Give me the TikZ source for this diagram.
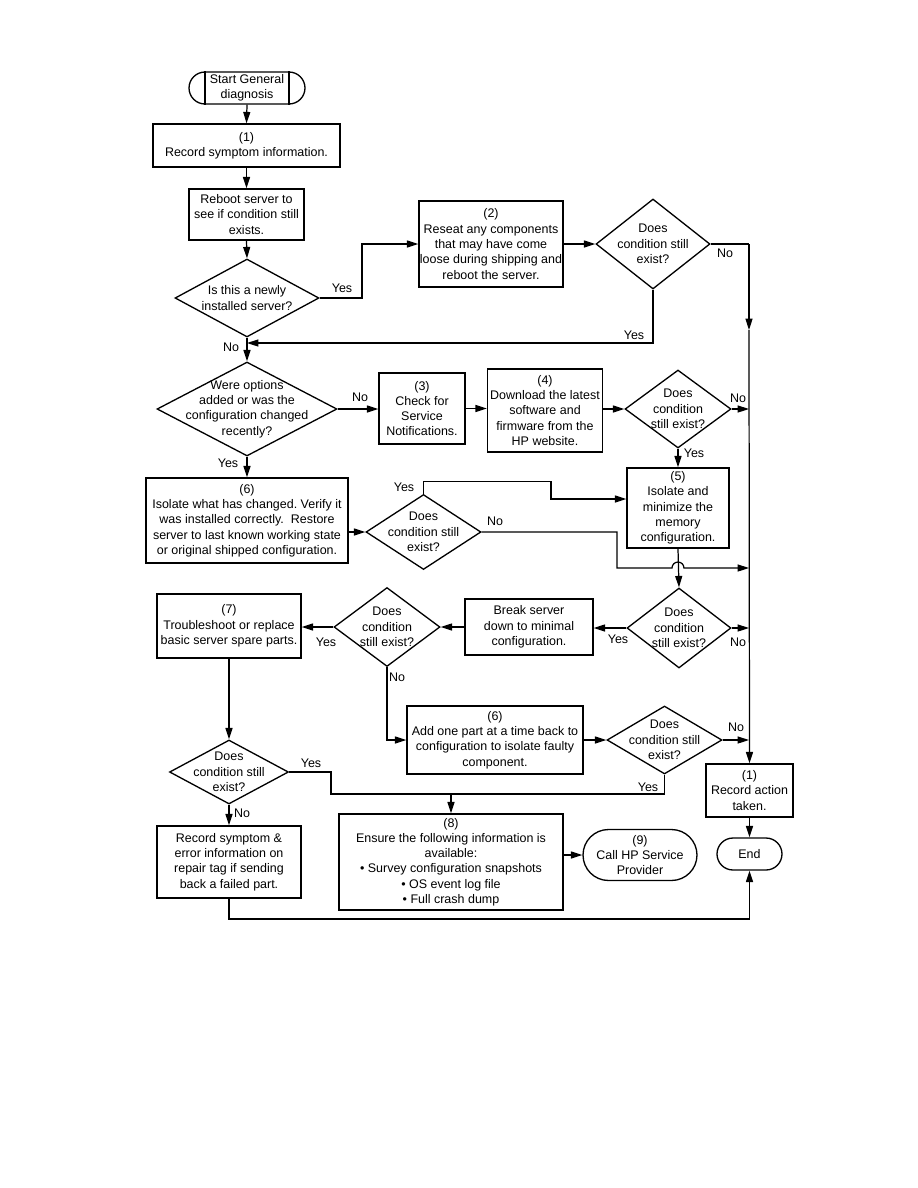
\documentclass[tikz,border=0pt]{standalone}
\usepackage{fontspec}
\setmainfont{Liberation Sans}
\usetikzlibrary{shapes.geometric,shapes.misc,arrows.meta}
\frenchspacing

\tikzset{
    box/.style={draw, line width=0.75pt, align=center, inner sep=0pt},
    ask/.style={draw, diamond, line width=0.75pt, align=center, inner sep=-2cm},
    term/.style={draw, rounded rectangle, line width=0.75pt, align=center, inner sep=0pt},
    line/.style={line width=0.7pt},
    arr/.style={line width=0.7pt, -{Triangle[length=6.5pt,width=4pt]}}
}

\begin{document}
\begin{tikzpicture}[x=0.02cm, y=-0.02cm]
    \tikzstyle{every node}=[font=\fontsize{7.1pt}{8.7pt}\selectfont]
    \path[fill=white] (0,0) rectangle (918,1188);

    % left column, top
    \node[term, minimum width=2.32cm, minimum height=0.64cm] (start) at (247,88) {Start General\\diagnosis};
    \draw[line] (start.north west) -- (start.south west);
    \draw[line] (start.north east) -- (start.south east);
    \node[box, minimum width=3.74cm, minimum height=0.86cm] (rec1) at (246.5,145.5) {(1)\\Record symptom information.};
    \node[box, minimum width=2.30cm, minimum height=1.02cm] (reboot) at (246.5,214.5) {Reboot server to\\see if condition still\\exists.};
    \node[ask, minimum width=2.88cm, minimum height=1.56cm] (newq) at (247,298) {Is this a newly\\installed server?};
    \node[box, minimum width=2.88cm, minimum height=1.72cm] (reseat) at (491,244) {(2)\\Reseat any components\\that may have come\\loose during shipping and\\reboot the server.};
    \node[ask, minimum width=2.28cm, minimum height=1.80cm] (d1) at (653,244) {Does\\condition still\\exist?};

    % options row
    \node[ask, minimum width=3.60cm, minimum height=1.88cm] (optq) at (247,409) {Were options\\added or was the\\configuration changed\\recently?};
    \node[box, minimum width=1.72cm, minimum height=1.42cm] (notes) at (422,408.5) {(3)\\Check for\\Service\\Notifications.};
    \node[box, minimum width=2.30cm, minimum height=1.66cm] (download) at (545,410.5) {(4)\\Download the latest\\software and\\firmware from the\\HP website.};
    \node[ask, minimum width=2.12cm, minimum height=1.56cm] (d2) at (678,409) {Does\\condition\\still exist?};
    \node[box, minimum width=2.04cm, minimum height=1.60cm] (memory) at (678,508) {(5)\\Isolate and\\minimize the\\memory\\configuration.};
    \node[box, minimum width=4.04cm, minimum height=1.70cm] (isolate) at (247,520.5) {(6)\\Isolate what has changed. Verify it\\was installed correctly.~ Restore\\server to last known working state\\or original shipped configuration.};
    \node[ask, minimum width=2.30cm, minimum height=1.50cm] (d3) at (423.5,532) {Does\\condition still\\exist?};

    % minimal configuration row
    \node[ask, minimum width=2.08cm, minimum height=1.60cm] (d4) at (679,628) {Does\\condition\\still exist?};
    \node[box, minimum width=2.56cm, minimum height=1.12cm] (breakdown) at (529,627) {Break server\\down to minimal\\configuration.};
    \node[ask, minimum width=2.12cm, minimum height=1.58cm] (d5) at (387,627) {Does\\condition\\still exist?};
    \node[box, minimum width=2.88cm, minimum height=1.28cm] (replace) at (229,626) {(7)\\Troubleshoot or replace\\basic server spare parts.};
    \node[box, minimum width=3.52cm, minimum height=1.36cm] (addpart) at (495,740) {(6)\\Add one part at a time back to\\configuration to isolate faulty\\component.};
    \node[ask, minimum width=2.30cm, minimum height=1.36cm] (d6) at (664.5,740) {Does\\condition still\\exist?};
    \node[ask, minimum width=2.38cm, minimum height=1.28cm] (d7) at (229,772) {Does\\condition still\\exist?};

    % bottom row
    \node[box, minimum width=2.88cm, minimum height=1.44cm] (recsym) at (229,862) {Record symptom \&\\error information on\\repair tag if sending\\back a failed part.};
    \node[box, minimum width=4.48cm, minimum height=1.92cm] (ensure) at (451,862) {(8)\\Ensure the following information is\\available:\\\textbullet\ Survey configuration snapshots\\\textbullet\ OS event log file\\\textbullet\ Full crash dump};
    \node[term, minimum width=2.28cm, minimum height=1.02cm] (call) at (640,855) {(9)\\Call HP Service\\Provider};
    \node[box, minimum width=1.74cm, minimum height=1.06cm] (recact) at (749.5,790.5) {(1)\\Record action\\taken.};
    \node[term, minimum width=1.30cm, minimum height=0.64cm] (endt) at (749.5,854) {End};

    % yes / no labels
    \node (ynew) at (342,288) {Yes};
    \node (nnew) at (231,347) {No};
    \node (yd1) at (634,335) {Yes};
    \node (nd1) at (725,253) {No};
    \node (nopt) at (360,397) {No};
    \node (yopt) at (228,463) {Yes};
    \node (nd2) at (738,398) {No};
    \node (yd2) at (694,453) {Yes};
    \node (yd3) at (404,487) {Yes};
    \node (nd3) at (495,521) {No};
    \node (yd4) at (618,639) {Yes};
    \node (nd4) at (738,642) {No};
    \node (yd5) at (326,642) {Yes};
    \node (nd5) at (397,677) {No};
    \node (nd6) at (736,727) {No};
    \node (yd6) at (648,787) {Yes};
    \node (yd7) at (311,763) {Yes};
    \node (nd7) at (242,813) {No};

    \coordinate (rail) at (749,244);
    \coordinate (railmid) at (749,330);

    % connectors
    \draw[arr] (start.south) -- (rec1.north);
    \draw[arr] (rec1.south) -- (reboot.north);
    \draw[arr] (reboot.south) -- (newq.north);
    \draw[arr] (newq.east) -- (362,298) |- (reseat.west);
    \draw[arr] (reseat.east) -- (d1.west);
    \draw[line] (d1.east) -- (rail);
    \draw[arr] (rail) -- (railmid);
    \draw[arr] (railmid) -- (recact.north);
    \draw[arr] (d1.south) |- (newq.south |- 0,343);
    \draw[arr] (newq.south) -- (optq.north);

    \draw[arr] (optq.east) -- (notes.west |- optq.east);
    \draw[arr] (notes.east) -- (download.west |- notes.east);
    \draw[arr] (download.east |- d2.west) -- (d2.west);
    \draw[arr] (d2.east) -- (d2.east -| rail);
    \draw[arr] (d2.south) -- (memory.north);
    \draw[arr] (memory.south) -- (d4.north);
    \draw[arr] (optq.south) -- (isolate.north);
    \draw[arr] (d3.west -| isolate.east) -- (d3.west);
    \draw[arr] (d3.north) -- ++(0,-12) -| (551,499) -- (memory.west |- 0,499);
    \draw[arr] (d3.east) -| (617,568) -- (672,568) arc[start angle=180, end angle=0, radius=3.4pt] -- (rail |- 0,568);

    \draw[arr] (d4.east) -- (d4.east -| rail);
    \draw[arr] (d4.west) -- (breakdown.east |- d4.west);
    \draw[arr] (breakdown.west) -- (d5.east |- breakdown.west);
    \draw[arr] (d5.west) -- (replace.east |- d5.west);
    \draw[arr] (replace.south) -- (d7.north);
    \draw[arr] (d5.south) |- (addpart.west);
    \draw[arr] (addpart.east) -- (d6.west);
    \draw[arr] (d6.east) -- (d6.east -| rail);
    \draw[line] (d7.east) -| (331,794) -- (d6.south |- 0,794) -- (d6.south);
    \draw[arr] (ensure.north |- 0,794) -- (ensure.north);
    \draw[arr] (d7.south) -- (recsym.north);
    \draw[arr] (ensure.east |- call.west) -- (call.west);
    \draw[arr] (recact.south) -- (endt.north);
    \draw[arr] (recsym.south) -- (229,919) -| (endt.south);

\end{tikzpicture}
\end{document}
